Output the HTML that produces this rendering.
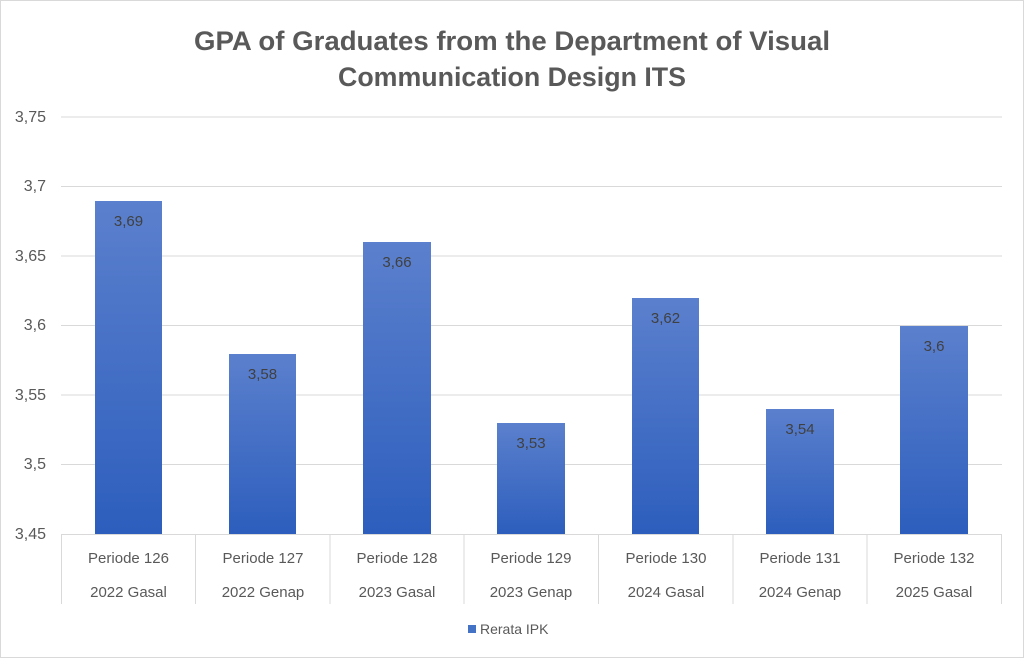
<!DOCTYPE html>
<html><head><meta charset="utf-8"><style>
body{margin:0;background:#fff}
svg{display:block;font-family:"Liberation Sans",sans-serif}
</style></head><body>
<svg width="1024" height="659" viewBox="0 0 1024 659">
<defs><linearGradient id="g" x1="0" y1="0" x2="0" y2="1">
<stop offset="0" stop-color="#5b80cd"/><stop offset="1" stop-color="#2d5ebd"/></linearGradient></defs>
<rect x="0.5" y="0.5" width="1023" height="657" fill="#fff" stroke="#d9d9d9"/>
<text x="512" y="50" text-anchor="middle" font-size="27" font-weight="bold" fill="#595959" textLength="636" lengthAdjust="spacingAndGlyphs">GPA of Graduates from the Department of Visual</text>
<text x="512" y="86" text-anchor="middle" font-size="27" font-weight="bold" fill="#595959" textLength="348" lengthAdjust="spacingAndGlyphs">Communication Design ITS</text>
<g stroke="#d9d9d9" stroke-width="1">
<line x1="61" x2="1002" y1="117" y2="117"/><line x1="61" x2="1002" y1="186.5" y2="186.5"/>
<line x1="61" x2="1002" y1="256" y2="256"/><line x1="61" x2="1002" y1="325.5" y2="325.5"/>
<line x1="61" x2="1002" y1="395" y2="395"/><line x1="61" x2="1002" y1="464.5" y2="464.5"/>
<line x1="61" x2="1002" y1="534.5" y2="534.5"/>
<line x1="61.5" x2="61.5" y1="534" y2="604"/><line x1="195.5" x2="195.5" y1="534" y2="604"/>
<line x1="330" x2="330" y1="534" y2="604"/><line x1="464" x2="464" y1="534" y2="604"/>
<line x1="598.5" x2="598.5" y1="534" y2="604"/><line x1="733" x2="733" y1="534" y2="604"/>
<line x1="867" x2="867" y1="534" y2="604"/><line x1="1001.5" x2="1001.5" y1="534" y2="604"/>
</g>
<g font-size="16" fill="#595959" text-anchor="end">
<text x="46" y="122">3,75</text><text x="46" y="191">3,7</text><text x="46" y="261">3,65</text>
<text x="46" y="330">3,6</text><text x="46" y="400">3,55</text><text x="46" y="469">3,5</text><text x="46" y="539">3,45</text>
</g>
<g fill="url(#g)">
<rect x="95" y="201" width="67" height="333"/>
<rect x="229" y="354" width="67" height="180"/>
<rect x="363" y="242" width="68" height="292"/>
<rect x="497" y="423" width="68" height="111"/>
<rect x="632" y="298" width="67" height="236"/>
<rect x="766" y="409" width="68" height="125"/>
<rect x="900" y="326" width="68" height="208"/>
</g>
<g font-size="15" fill="#404040" text-anchor="middle">
<text x="128.5" y="226">3,69</text><text x="262.5" y="379">3,58</text><text x="397" y="267">3,66</text>
<text x="531" y="448">3,53</text><text x="665.5" y="323">3,62</text><text x="800" y="434">3,54</text><text x="934" y="351">3,6</text>
</g>
<g font-size="15" fill="#595959" text-anchor="middle">
<text x="128.5" y="563">Periode 126</text><text x="128.5" y="597">2022 Gasal</text>
<text x="263" y="563">Periode 127</text><text x="263" y="597">2022 Genap</text>
<text x="397" y="563">Periode 128</text><text x="397" y="597">2023 Gasal</text>
<text x="531" y="563">Periode 129</text><text x="531" y="597">2023 Genap</text>
<text x="666" y="563">Periode 130</text><text x="666" y="597">2024 Gasal</text>
<text x="800" y="563">Periode 131</text><text x="800" y="597">2024 Genap</text>
<text x="934" y="563">Periode 132</text><text x="934" y="597">2025 Gasal</text>
</g>
<rect x="468" y="625" width="8" height="8" fill="#4472c4"/>
<text x="480" y="634" font-size="14" fill="#595959">Rerata IPK</text>
</svg>
</body></html>
